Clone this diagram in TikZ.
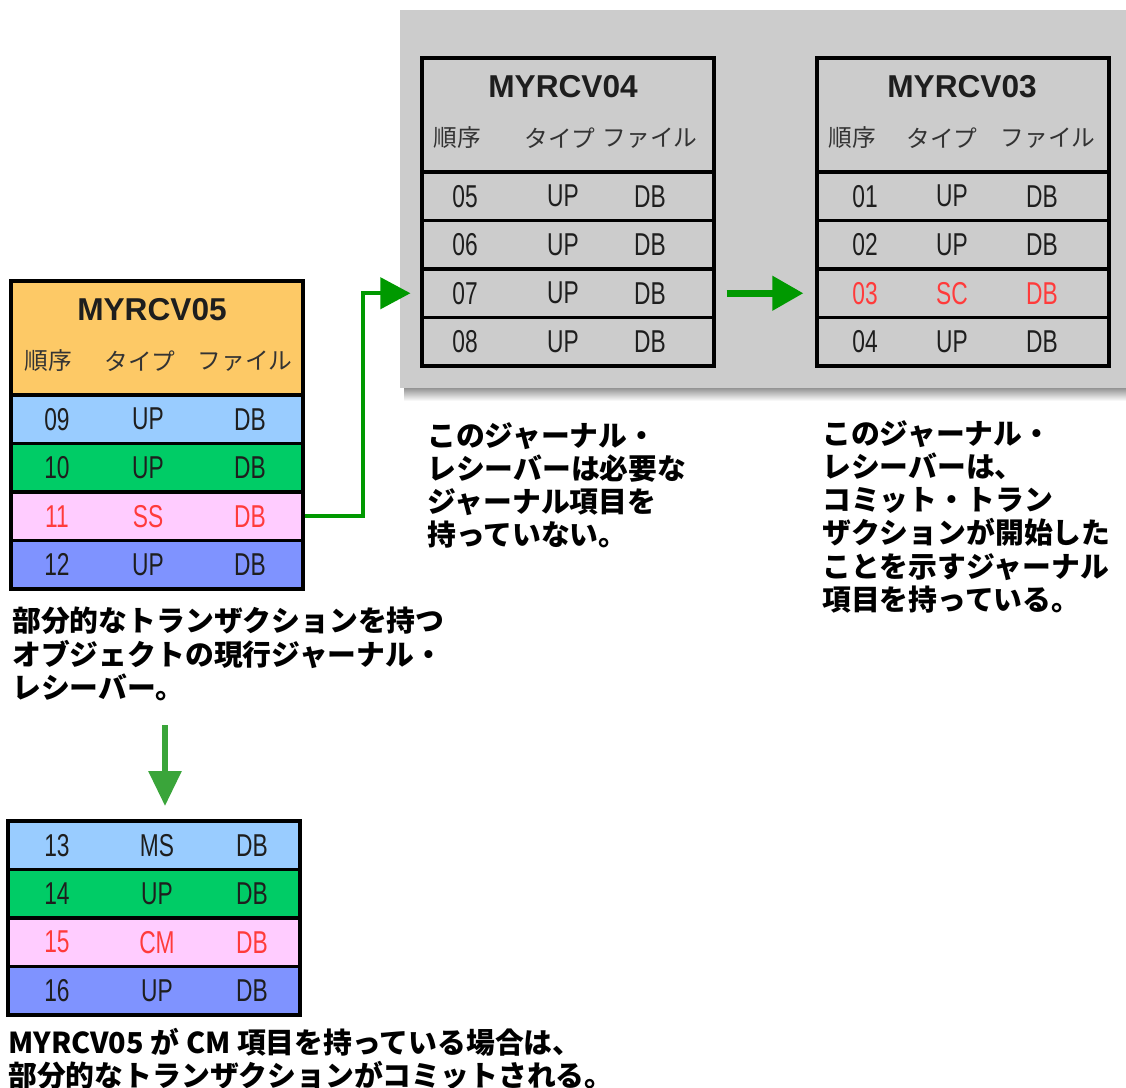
\documentclass[tikz,border=0pt]{standalone}
\usepackage{fontspec}
\setmainfont{Liberation Sans}
\newfontfamily\jpfont{Noto Sans CJK JP}
\newfontfamily\rowfont[FakeStretch=0.72]{Liberation Sans}
\usetikzlibrary{arrows.meta,calc}
\definecolor{panelgray}{HTML}{CCCCCC}
\definecolor{hdrorange}{HTML}{FDC966}
\definecolor{rowblue}{HTML}{99CCFF}
\definecolor{rowgreen}{HTML}{00CC66}
\definecolor{rowpink}{HTML}{FFCCFF}
\definecolor{rowperi}{HTML}{7F93FF}
\definecolor{txtred}{HTML}{FF3B3B}
\definecolor{txtdark}{HTML}{1E1E1E}
\definecolor{arrowgreen}{HTML}{009900}
\definecolor{downgreen}{HTML}{3AA53A}

\newcommand{\jrow}[8]{%
  \node[rowbox, fill=#4] (#1) at (#2+146,#3) {};
  \node[celltxt, text=#5] (#1a) at (#2+\colA,#3) {#6};
  \node[celltxt, text=#5] (#1b) at (#2+\colB,#3) {#7};
  \node[celltxt, text=#5] (#1c) at (#2+\colC,#3) {#8};
}
\newcommand{\jhead}[9]{%
  \node[hdrbox, fill=#4] (#1) at (#2+146,#3+57) {};
  \node[titletxt] (#1t) at (#2+#9,#3+29) {#5};
  \node[colhdr] (#1h1) at (#2+#6,#3+80) {順序};
  \node[colhdr] (#1h2) at (#2+#7,#3+80) {タイプ};
  \node[colhdr] (#1h3) at (#2+#8,#3+80) {ファイル};
}

\begin{document}
\begin{tikzpicture}[x=0.02cm,y=-0.02cm,
  rowbox/.style={draw=black, line width=1.8pt, rectangle, inner sep=0pt,
    minimum width=5.84cm, minimum height=0.97cm},
  hdrbox/.style={draw=black, line width=1.8pt, rectangle, inner sep=0pt,
    minimum width=5.84cm, minimum height=2.28cm},
  celltxt/.style={inner sep=0pt, font=\rowfont\fontsize{18}{18}\selectfont},
  titletxt/.style={inner sep=0pt, text=txtdark, font=\bfseries\fontsize{18}{18}\selectfont},
  colhdr/.style={inner sep=0pt, text=black!80, font=\jpfont\fontsize{13.5}{14}\selectfont},
  caption/.style={inner sep=0pt, anchor=north west, align=left, text=black,
    font=\jpfont\bfseries\fontsize{16.4}{18.9}\selectfont},
  conn/.style={draw=arrowgreen, line width=2.3pt,
    -{Triangle[length=0.6cm,width=0.62cm]}},
  bigarrow/.style={draw=arrowgreen, line width=4pt,
    -{Triangle[length=0.62cm,width=0.66cm]}},
  downarrow/.style={draw=downgreen, line width=3.4pt,
    -{Triangle[length=0.7cm,width=0.64cm]}},
  thickline/.style={draw=black, line width=2.8pt}
]
\useasboundingbox (0,0) rectangle (1126,1088);

% gray panel with shadow
\shade[top color=black!55, bottom color=white] (404,384) rectangle (1126,401);
\fill[panelgray] (400,10) rectangle (1126,388);

% ---------- MYRCV04 ----------
\jhead{h4}{422}{58}{panelgray}{MYRCV04}{35}{138}{228}{141}
\def\colA{43}\def\colB{141}\def\colC{228}
\jrow{r05}{422}{196.25}{panelgray}{txtdark}{05}{UP}{DB}
\jrow{r06}{422}{244.75}{panelgray}{txtdark}{06}{UP}{DB}
\jrow{r07}{422}{293.25}{panelgray}{txtdark}{07}{UP}{DB}
\jrow{r08}{422}{341.75}{panelgray}{txtdark}{08}{UP}{DB}
\draw[thickline] (422,58) -- (714,58);
\draw[thickline] (422,172) -- (714,172);
\draw[thickline] (422,366) -- (714,366);

% ---------- MYRCV03 ----------
\jhead{h3}{817}{58}{panelgray}{MYRCV03}{35}{125}{231}{145}
\def\colA{48}\def\colB{135}\def\colC{225}
\jrow{r01}{817}{196.25}{panelgray}{txtdark}{01}{UP}{DB}
\jrow{r02}{817}{244.75}{panelgray}{txtdark}{02}{UP}{DB}
\jrow{r03}{817}{293.25}{panelgray}{txtred}{03}{SC}{DB}
\jrow{r04}{817}{341.75}{panelgray}{txtdark}{04}{UP}{DB}
\draw[thickline] (817,58) -- (1109,58);
\draw[thickline] (817,172) -- (1109,172);
\draw[thickline] (817,366) -- (1109,366);

% ---------- MYRCV05 ----------
\jhead{h5}{11}{281}{hdrorange}{MYRCV05}{37}{129}{234}{141}
\def\colA{46}\def\colB{137}\def\colC{239}
\jrow{r09}{11}{419.25}{rowblue}{txtdark}{09}{UP}{DB}
\jrow{r10}{11}{467.75}{rowgreen}{txtdark}{10}{UP}{DB}
\jrow{r11}{11}{516.25}{rowpink}{txtred}{11}{SS}{DB}
\jrow{r12}{11}{564.75}{rowperi}{txtdark}{12}{UP}{DB}
\draw[thickline] (11,281) -- (303,281);
\draw[thickline] (11,395) -- (303,395);
\draw[thickline] (11,589) -- (303,589);

% ---------- bottom table ----------
\def\colA{49}\def\colB{149}\def\colC{244}
\jrow{r13}{8}{845.25}{rowblue}{txtdark}{13}{MS}{DB}
\jrow{r14}{8}{893.75}{rowgreen}{txtdark}{14}{UP}{DB}
\jrow{r15}{8}{942.25}{rowpink}{txtred}{15}{CM}{DB}
\jrow{r16}{8}{990.75}{rowperi}{txtdark}{16}{UP}{DB}
\draw[thickline] (8,821) -- (300,821);
\draw[thickline] (8,1015) -- (300,1015);

% ---------- captions ----------
\node[caption] (cap5) at (12,607) {部分的なトランザクションを持つ\\オブジェクトの現行ジャーナル・\\レシーバー。};
\node[caption] (cap4) at (427,422) {このジャーナル・\\レシーバーは必要な\\ジャーナル項目を\\持っていない。};
\node[caption] (cap3) at (822,420) {このジャーナル・\\レシーバーは、\\コミット・トラン\\ザクションが開始した\\ことを示すジャーナル\\項目を持っている。};
\node[caption] (capB) at (8,1028) {MYRCV05 が CM 項目を持っている場合は、\\部分的なトランザクションがコミットされる。};

% ---------- connectors ----------
\draw[conn] (r11.east) -- ($(r11.east)+(58,0)$) |- ($(r07.west)+(-10,0)$);
\draw[bigarrow] ($(r07.east)+(11,0)$) -- ($(r03.west)+(-12,0)$);
\coordinate (dnA) at (165,725);
\coordinate (dnB) at (165,806);
\draw[downarrow] (dnA) -- (dnB);
\end{tikzpicture}
\end{document}
